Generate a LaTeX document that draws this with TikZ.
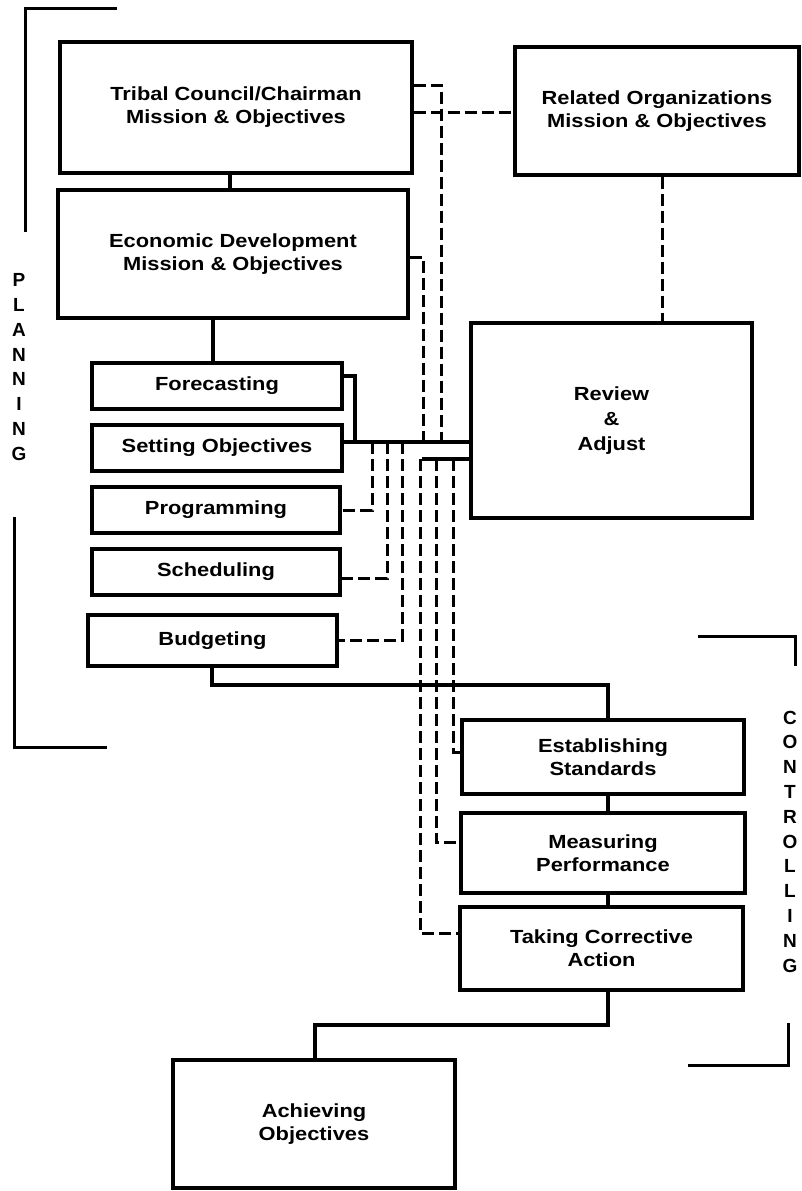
\documentclass[tikz,border=0pt]{standalone}
\usepackage{fontspec}
\newfontfamily\diafont{Liberation Sans}[FakeStretch=1.15]
\newfontfamily\letfont{Liberation Sans}
\tikzset{
  box/.style={draw, line width=3.2pt, inner sep=0pt, align=center,
    font=\diafont\bfseries\fontsize{19}{23}\selectfont},
  solidc/.style={line width=3.2pt},
  dashc/.style={line width=3pt, dash pattern=on 12pt off 5pt},
  brk/.style={line width=3pt},
  vlet/.style={align=center, inner sep=0pt, font=\letfont\bfseries\fontsize{19}{24.8}\selectfont}
}
\begin{document}
\begin{tikzpicture}[x=1pt,y=-1pt]
\useasboundingbox (0,0) rectangle (801,1191);
% boxes
\node[box, minimum width=352pt, minimum height=131pt] (trib) at (236,107.5) {Tribal Council/Chairman\\Mission \& Objectives};
\node[box, minimum width=350pt, minimum height=128pt] (econ) at (233,254) {Economic Development\\Mission \& Objectives};
\node[box, minimum width=284pt, minimum height=128pt] (rel) at (657,111) {Related Organizations\\Mission \& Objectives};
\node[box, minimum width=281pt, minimum height=195pt, font=\diafont\bfseries\fontsize{19}{25}\selectfont] (rev) at (611.5,420.5) {Review\\\&\\Adjust};
\node[box, minimum width=250pt, minimum height=46pt] (fore) at (217,386) {Forecasting};
\node[box, minimum width=250pt, minimum height=46pt] (sett) at (217,448) {Setting Objectives};
\node[box, minimum width=248pt, minimum height=46pt] (prog) at (216,510) {Programming};
\node[box, minimum width=248pt, minimum height=46pt] (sched) at (216,572) {Scheduling};
\node[box, minimum width=249pt, minimum height=51pt] (budg) at (212.5,640.5) {Budgeting};
\node[box, minimum width=282pt, minimum height=74pt] (est) at (603,757) {Establishing\\Standards};
\node[box, minimum width=284pt, minimum height=80pt] (meas) at (603,853) {Measuring\\Performance};
\node[box, minimum width=283pt, minimum height=83pt] (take) at (601.5,948.5) {Taking Corrective\\Action};
\node[box, minimum width=282pt, minimum height=128pt] (ach) at (314,1124) {Achieving\\Objectives};
% side labels
\node[vlet] (plan) at (19,367) {P\\L\\A\\N\\N\\I\\N\\G};
\node[vlet] (ctrl) at (790,841.5) {C\\O\\N\\T\\R\\O\\L\\L\\I\\N\\G};
% brackets
\draw[brk] (117,8) -- (25,8) -- (25,232);
\draw[brk] (14,517) -- (14,747) -- (107,747);
\draw[brk] (698,636) -- (795,636) -- (795,666);
\draw[brk] (788,1023) -- (788,1065) -- (688,1065);
% helper coordinates
\coordinate (X212) at (212,0);
\coordinate (X213) at (213,0);
\coordinate (X230) at (230,0);
\coordinate (X315) at (315,0);
\coordinate (X355) at (355,0);
\coordinate (X372) at (372,0);
\coordinate (X387) at (387,0);
\coordinate (X402) at (402,0);
\coordinate (X420) at (420,0);
\coordinate (X422) at (422,0);
\coordinate (X423) at (423,0);
\coordinate (X436) at (436,0);
\coordinate (X441) at (441,0);
\coordinate (X453) at (453,0);
\coordinate (X608) at (608,0);
\coordinate (X662) at (662,0);
\coordinate (Y85) at (0,85);
\coordinate (Y112) at (0,112);
\coordinate (Y257) at (0,257);
\coordinate (Y376) at (0,376);
\coordinate (Y442) at (0,442);
\coordinate (Y459) at (0,459);
\coordinate (Y578) at (0,578);
\coordinate (Y640) at (0,640);
\coordinate (Y685) at (0,685);
\coordinate (Y752) at (0,752);
\coordinate (Y842) at (0,842);
\coordinate (Y933) at (0,933);
\coordinate (Y1025) at (0,1025);
% solid connectors
\draw[solidc] (X230 |- trib.south) -- (X230 |- econ.north);
\draw[solidc] (X213 |- econ.south) -- (X213 |- fore.north);
\draw[solidc] (X212 |- budg.south) -- (X212 |- Y685) -| (X608 |- est.north);
\draw[solidc] (X608 |- est.south) -- (X608 |- meas.north);
\draw[solidc] (X608 |- meas.south) -- (X608 |- take.north);
\draw[solidc] (X608 |- take.south) -- (X608 |- Y1025) -| (X315 |- ach.north);
\draw[solidc] (fore.east |- Y376) -| (X355 |- Y442);
\draw[solidc] (sett.east |- Y442) -- (rev.west |- Y442);
\draw[solidc] (X422 |- Y459) -- (rev.west |- Y459);
% dashed connectors
\draw[dashc] (trib.east |- Y85) -| (X441 |- Y442);
\draw[dashc] (trib.east |- Y112) -- (rel.west |- Y112);
\draw[dashc] (econ.east |- Y257) -| (X423 |- Y442);
\draw[dashc] (X662 |- rel.south) -- (X662 |- rev.north);
\draw[dashc] (X372 |- Y442) |- (prog.east);
\draw[dashc] (X387 |- Y442) |- (sched.east |- Y578);
\draw[dashc] (X402 |- Y442) |- (budg.east |- Y640);
\draw[dashc] (X453 |- Y459) |- (est.west |- Y752);
\draw[dashc] (X436 |- Y459) |- (meas.west |- Y842);
\draw[dashc] (X420 |- Y459) |- (take.west |- Y933);
\end{tikzpicture}
\end{document}
